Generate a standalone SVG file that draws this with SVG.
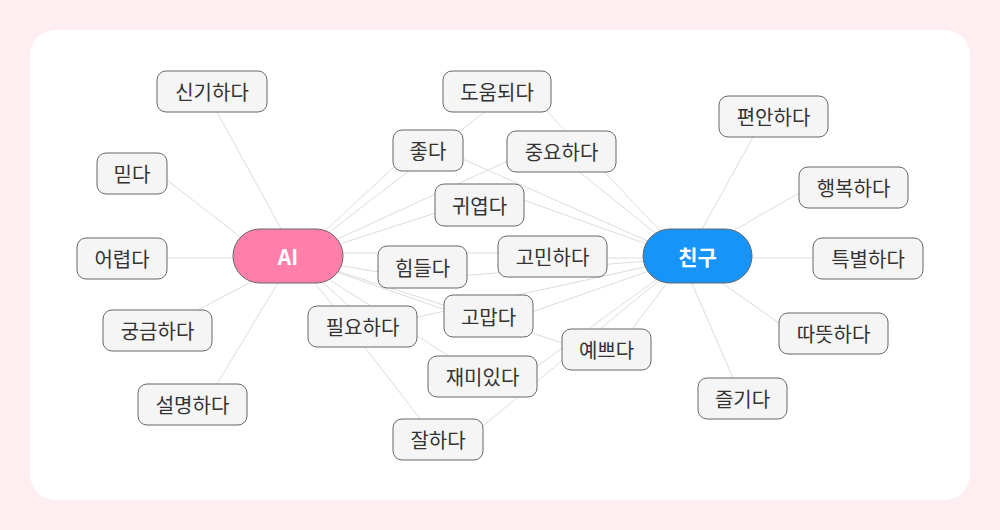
<svg xmlns="http://www.w3.org/2000/svg" width="1000" height="530" viewBox="0 0 1000 530">
<style>
.edge{stroke:#dcdcdc;stroke-width:1;fill:none}
.box{fill:#f5f5f5;stroke:#666;stroke-width:1}
.lbl{font-family:"Noto Sans CJK KR","Noto Sans",sans-serif;font-size:20px;fill:#333;text-anchor:middle;dominant-baseline:central}
.hub{stroke:#666;stroke-width:1}
.hlbl{font-family:"Noto Sans CJK KR","Noto Sans",sans-serif;font-size:21px;font-weight:bold;fill:#fff;text-anchor:middle;dominant-baseline:central}
</style>
<rect x="0" y="0" width="1000" height="530" fill="#fdeef2"/>
<rect x="30" y="30" width="940" height="470" rx="26" fill="#ffffff"/>
<g id="connectors">
<line class="edge" x1="217" y1="112" x2="296" y2="256"/>
<line class="edge" x1="167" y1="180" x2="270" y2="260"/>
<line class="edge" x1="167" y1="258" x2="296" y2="258"/>
<line class="edge" x1="198" y1="310" x2="296" y2="258"/>
<line class="edge" x1="217" y1="384" x2="294" y2="256"/>
<line class="edge" x1="753" y1="137" x2="686" y2="258"/>
<line class="edge" x1="799" y1="193" x2="686" y2="258"/>
<line class="edge" x1="813" y1="258" x2="686" y2="258"/>
<line class="edge" x1="779" y1="323" x2="686" y2="258"/>
<line class="edge" x1="733" y1="378" x2="681" y2="258"/>
<line class="edge" x1="296" y1="258" x2="521" y2="84"/>
<line class="edge" x1="521" y1="84" x2="686" y2="258"/>
<line class="edge" x1="296" y1="258" x2="422" y2="141"/>
<line class="edge" x1="422" y1="141" x2="686" y2="258"/>
<line class="edge" x1="296" y1="258" x2="545" y2="144"/>
<line class="edge" x1="545" y1="144" x2="686" y2="258"/>
<line class="edge" x1="296" y1="258" x2="501" y2="192"/>
<line class="edge" x1="501" y1="192" x2="686" y2="258"/>
<line class="edge" x1="300" y1="253" x2="550" y2="253"/>
<line class="edge" x1="550" y1="258" x2="686" y2="258"/>
<line class="edge" x1="296" y1="258" x2="420" y2="279"/>
<line class="edge" x1="420" y1="279" x2="686" y2="258"/>
<line class="edge" x1="296" y1="258" x2="492" y2="326"/>
<line class="edge" x1="492" y1="326" x2="686" y2="258"/>
<line class="edge" x1="296" y1="258" x2="372" y2="327"/>
<line class="edge" x1="372" y1="327" x2="686" y2="258"/>
<line class="edge" x1="296" y1="258" x2="610" y2="358"/>
<line class="edge" x1="610" y1="358" x2="686" y2="258"/>
<line class="edge" x1="296" y1="258" x2="503" y2="391"/>
<line class="edge" x1="503" y1="391" x2="686" y2="258"/>
<line class="edge" x1="296" y1="258" x2="448" y2="455"/>
<line class="edge" x1="448" y1="455" x2="686" y2="258"/>
</g>
<g id="node-ai"><rect class="hub" x="233" y="229" width="110" height="54" rx="27" fill="#ff7eaa"/><text class="hlbl" x="288" y="256">AI</text></g>
<g id="node-chingu"><rect class="hub" x="643" y="229" width="109" height="54" rx="27" fill="#1694f8"/><text class="hlbl" x="697.5" y="256">친구</text></g>
<g id="node-singiada"><rect class="box" x="157" y="71" width="110" height="41" rx="9"/><text class="lbl" x="212" y="91.5">신기하다</text></g>
<g id="node-mitda"><rect class="box" x="97" y="153" width="70" height="41" rx="9"/><text class="lbl" x="132" y="173.5">믿다</text></g>
<g id="node-eoryeopda"><rect class="box" x="77" y="238" width="90" height="41" rx="9"/><text class="lbl" x="122" y="258.5">어렵다</text></g>
<g id="node-gunggeum"><rect class="box" x="103" y="310" width="109" height="41" rx="9"/><text class="lbl" x="157.5" y="330.5">궁금하다</text></g>
<g id="node-seolmyeong"><rect class="box" x="138" y="384" width="109" height="41" rx="9"/><text class="lbl" x="192.5" y="404.5">설명하다</text></g>
<g id="node-doum"><rect class="box" x="443" y="71" width="108" height="41" rx="9"/><text class="lbl" x="497" y="91.5">도움되다</text></g>
<g id="node-jota"><rect class="box" x="393" y="130" width="70" height="41" rx="9"/><text class="lbl" x="428" y="150.5">좋다</text></g>
<g id="node-jungyo"><rect class="box" x="507" y="131" width="109" height="41" rx="9"/><text class="lbl" x="561.5" y="151.5">중요하다</text></g>
<g id="node-gwiyeopda"><rect class="box" x="435" y="184" width="89" height="42" rx="9"/><text class="lbl" x="479.5" y="205">귀엽다</text></g>
<g id="node-gomin"><rect class="box" x="498" y="236" width="109" height="41" rx="9"/><text class="lbl" x="552.5" y="256.5">고민하다</text></g>
<g id="node-himdeulda"><rect class="box" x="378" y="246" width="89" height="42" rx="9"/><text class="lbl" x="422.5" y="267">힘들다</text></g>
<g id="node-gomapda"><rect class="box" x="444" y="295" width="89" height="42" rx="9"/><text class="lbl" x="488.5" y="316">고맙다</text></g>
<g id="node-pilyo"><rect class="box" x="308" y="306" width="109" height="41" rx="9"/><text class="lbl" x="362.5" y="326.5">필요하다</text></g>
<g id="node-yeppeuda"><rect class="box" x="562" y="329" width="89" height="41" rx="9"/><text class="lbl" x="606.5" y="349.5">예쁘다</text></g>
<g id="node-jaemi"><rect class="box" x="428" y="356" width="109" height="41" rx="9"/><text class="lbl" x="482.5" y="376.5">재미있다</text></g>
<g id="node-jalhada"><rect class="box" x="393" y="419" width="90" height="41" rx="9"/><text class="lbl" x="438" y="439.5">잘하다</text></g>
<g id="node-pyeonan"><rect class="box" x="719" y="96" width="109" height="41" rx="9"/><text class="lbl" x="773.5" y="116.5">편안하다</text></g>
<g id="node-haengbok"><rect class="box" x="799" y="167" width="109" height="41" rx="9"/><text class="lbl" x="853.5" y="187.5">행복하다</text></g>
<g id="node-teukbyeol"><rect class="box" x="813" y="238" width="110" height="41" rx="9"/><text class="lbl" x="868" y="258.5">특별하다</text></g>
<g id="node-ttatteut"><rect class="box" x="779" y="313" width="109" height="41" rx="9"/><text class="lbl" x="833.5" y="333.5">따뜻하다</text></g>
<g id="node-jeulgida"><rect class="box" x="698" y="378" width="89" height="41" rx="9"/><text class="lbl" x="742.5" y="398.5">즐기다</text></g>
</svg>
